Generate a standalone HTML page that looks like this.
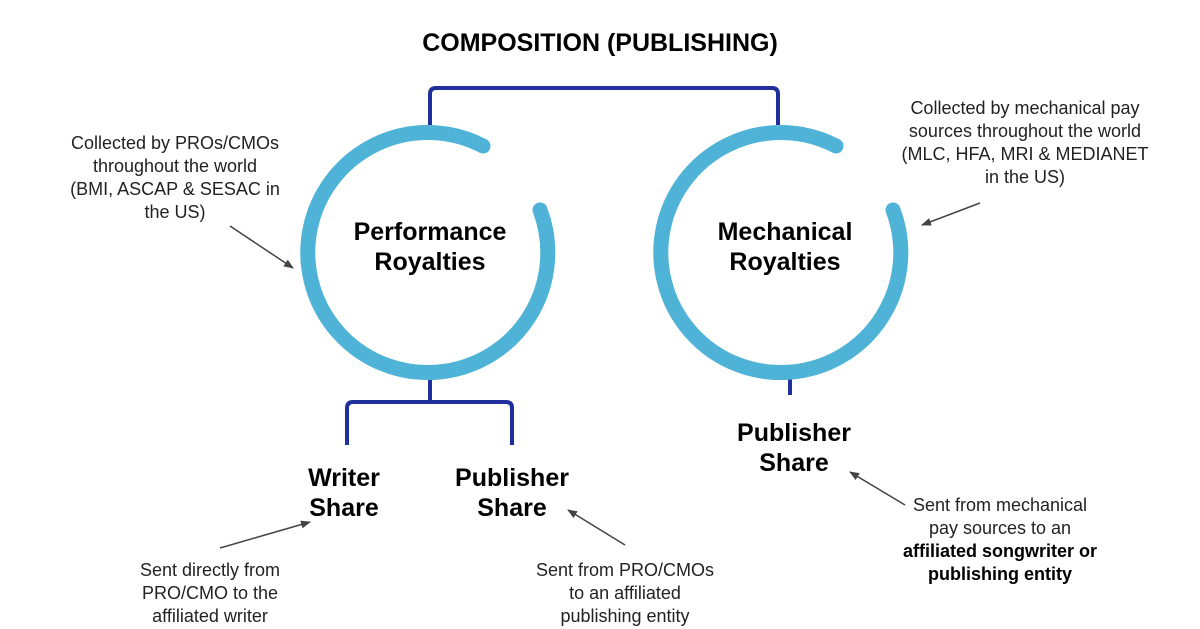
<!DOCTYPE html>
<html><head><style>
body{margin:0;width:1200px;height:629px;background:#fff;overflow:hidden;font-family:"Liberation Sans",sans-serif;}
.t{position:absolute;text-align:center;color:#222;font-size:18px;line-height:23px;}
.b{position:absolute;text-align:center;font-weight:bold;color:#000;font-size:25px;line-height:30px;}
</style></head><body>
<svg width="1200" height="629" style="position:absolute;left:0;top:0">
<defs><marker id="a" markerWidth="10" markerHeight="8" refX="9" refY="4" orient="auto" markerUnits="userSpaceOnUse"><path d="M0,0 L10,4 L0,8z" fill="#444"/></marker></defs>
<g fill="none" stroke="#1f2f9c" stroke-width="4">
<path d="M430,125 V94 Q430,88 436,88 H772 Q778,88 778,94 V125"/>
<path d="M430,372 V402 M347,445 V408 Q347,402 353,402 H506 Q512,402 512,408 V445"/>
<path d="M790,372 V395"/>
</g>
<g fill="none" stroke="#4eb3d6" stroke-width="15" stroke-linecap="round">
<path d="M540,210 A120,120 0 1 1 483,146"/>
<path d="M893,210 A120,120 0 1 1 836,146"/>
</g>
<g stroke="#444" stroke-width="1.5" marker-end="url(#a)">
<line x1="230" y1="226" x2="293" y2="268"/>
<line x1="980" y1="203" x2="922" y2="225"/>
<line x1="220" y1="548" x2="310" y2="522"/>
<line x1="625" y1="545" x2="568" y2="510"/>
<line x1="905" y1="505" x2="850" y2="472"/>
</g>
</svg>
<div class="b" style="left:300px;top:28px;width:600px;font-size:25px">COMPOSITION (PUBLISHING)</div>
<div class="b" style="left:310px;top:217px;width:240px">Performance<br>Royalties</div>
<div class="b" style="left:665px;top:217px;width:240px">Mechanical<br>Royalties</div>
<div class="b" style="left:264px;top:463px;width:160px">Writer<br>Share</div>
<div class="b" style="left:432px;top:463px;width:160px">Publisher<br>Share</div>
<div class="b" style="left:714px;top:418px;width:160px">Publisher<br>Share</div>
<div class="t" style="left:35px;top:132px;width:280px">Collected by PROs/CMOs<br>throughout the world<br>(BMI, ASCAP &amp; SESAC in<br>the US)</div>
<div class="t" style="left:880px;top:97px;width:290px">Collected by mechanical pay<br>sources throughout the world<br>(MLC, HFA, MRI &amp; MEDIANET<br>in the US)</div>
<div class="t" style="left:85px;top:559px;width:250px">Sent directly from<br>PRO/CMO to the<br>affiliated writer</div>
<div class="t" style="left:495px;top:559px;width:260px">Sent from PRO/CMOs<br>to an affiliated<br>publishing entity</div>
<div class="t" style="left:865px;top:494px;width:270px">Sent from mechanical<br>pay sources to an<br><b style="color:#000">affiliated songwriter or<br>publishing entity</b></div>
</body></html>
